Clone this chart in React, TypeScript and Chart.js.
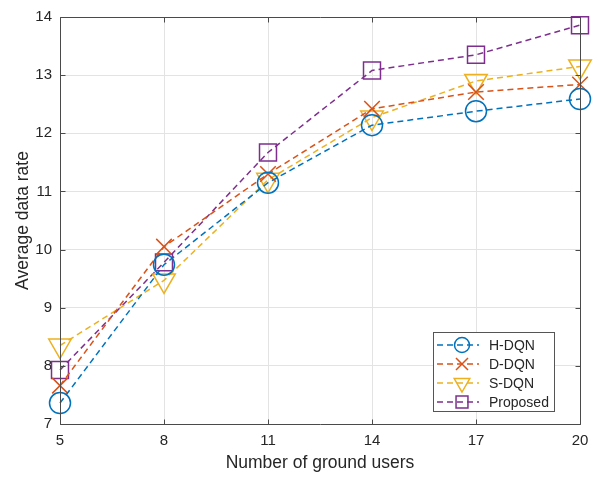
import React, { useEffect, useRef } from 'react';
import { Chart, registerables } from 'chart.js';
Chart.register(...registerables);

const users = [5, 8, 11, 14, 17, 20];
const hDqn = [7.36, 9.74, 11.15, 12.14, 12.38, 12.59];
const dDqn = [7.66, 10.05, 11.3, 12.42, 12.71, 12.84];
const sDqn = [8.35, 9.47, 11.2, 12.27, 12.9, 13.15];
const proposed = [7.93, 9.78, 11.67, 13.08, 13.35, 13.86];
const seriesNames = ['H-DQN', 'D-DQN', 'S-DQN', 'Proposed'];
const seriesColors = ['#0072BD', '#D95319', '#EDB120', '#7E2F8E'];
const xTicks = [5, 8, 11, 14, 17, 20];
const yTicks = [7, 8, 9, 10, 11, 12, 13, 14];

const FONT = '"Liberation Sans", Arial, Helvetica, sans-serif';

function drawMarker(ctx: CanvasRenderingContext2D, kind: number, x: number, y: number, s: number) {
  ctx.beginPath();
  if (kind === 0) {
    ctx.arc(x, y, s, 0, Math.PI * 2);
  } else if (kind === 1) {
    const d = s * 0.75;
    ctx.moveTo(x - d, y - d); ctx.lineTo(x + d, y + d);
    ctx.moveTo(x + d, y - d); ctx.lineTo(x - d, y + d);
  } else if (kind === 2) {
    ctx.moveTo(x, y + s);
    ctx.lineTo(x - s * 0.866, y - s * 0.5);
    ctx.lineTo(x + s * 0.866, y - s * 0.5);
    ctx.closePath();
  } else {
    const h = s * 0.7;
    ctx.rect(x - h, y - h, 2 * h, 2 * h);
  }
  ctx.stroke();
}

const framePlugin = {
  id: 'frame',
  afterDatasetsDraw(chart: any) {
    const { ctx, chartArea: a } = chart;
    const xs = chart.scales.x;
    const ys = chart.scales.y;
    ctx.save();
    ctx.strokeStyle = '#4a4a4a';
    ctx.lineWidth = 1;
    ctx.beginPath();
    const L = Math.round(a.left) + 0.5, R = Math.round(a.right) + 0.5;
    const T = Math.round(a.top) + 0.5, B = Math.round(a.bottom) + 0.5;
    ctx.rect(L, T, R - L, B - T);
    const tl = 5;
    for (const v of xTicks) {
      const px = Math.round(xs.getPixelForValue(v)) + 0.5;
      ctx.moveTo(px, B); ctx.lineTo(px, B - tl);
      ctx.moveTo(px, T); ctx.lineTo(px, T + tl);
    }
    for (const v of yTicks) {
      const py = Math.round(ys.getPixelForValue(v)) + 0.5;
      ctx.moveTo(L, py); ctx.lineTo(L + tl, py);
      ctx.moveTo(R, py); ctx.lineTo(R - tl, py);
    }
    ctx.stroke();

    // legend
    const bx = 433.5, by = 332.5, bw = 121, bh = 79;
    ctx.fillStyle = '#ffffff';
    ctx.fillRect(bx, by, bw, bh);
    ctx.strokeStyle = '#555555';
    ctx.lineWidth = 1;
    ctx.strokeRect(bx, by, bw, bh);
    const rows = [345, 364, 383, 402];
    const sizes = [7.5, 8, 9, 8.5];
    ctx.font = `14px ${FONT}`;
    ctx.textBaseline = 'middle';
    ctx.textAlign = 'left';
    for (let i = 0; i < 4; i++) {
      const y = rows[i];
      ctx.strokeStyle = seriesColors[i];
      ctx.lineWidth = 1.5;
      ctx.setLineDash([6, 4]);
      ctx.beginPath();
      ctx.moveTo(437, y); ctx.lineTo(479, y);
      ctx.stroke();
      ctx.setLineDash([]);
      drawMarker(ctx, i, 462, y, sizes[i]);
      ctx.fillStyle = '#262626';
      ctx.fillText(seriesNames[i], 489, y + 1);
    }
    ctx.restore();
  },
};

export default function App() {
  const ref = useRef<HTMLCanvasElement>(null);
  useEffect(() => {
    document.body.style.margin = '0';
    const series = [hDqn, dDqn, sDqn, proposed];
    const styles: any[] = ['circle', 'crossRot', 'triangle', 'rect'];
    const radii = [10.5, 11, 13, 12];
    const chart = new Chart(ref.current!, {
      type: 'line',
      data: {
        datasets: series.map((s, i) => ({
          label: seriesNames[i],
          data: users.map((u, j) => ({ x: u, y: s[j] })),
          borderColor: seriesColors[i],
          backgroundColor: seriesColors[i],
          borderWidth: 1.5,
          borderDash: [6, 4],
          pointStyle: styles[i],
          pointRadius: radii[i],
          pointRotation: i === 2 ? 180 : 0,
          pointBorderColor: seriesColors[i],
          pointBackgroundColor: 'rgba(0,0,0,0)',
          pointBorderWidth: 1.5,
          tension: 0,
          clip: false,
        })),
      },
      options: {
        responsive: false,
        animation: false,
        layout: { padding: { left: 0, right: 29, top: 13, bottom: 0 } },
        plugins: { legend: { display: false }, tooltip: { enabled: false } },
        scales: {
          x: {
            type: 'linear',
            min: 5,
            max: 20,
            afterBuildTicks: (s: any) => { s.ticks = xTicks.map((v) => ({ value: v })); },
            afterFit: (s: any) => { s.height = 53; },
            grid: { color: '#e3e3e3', drawTicks: false },
            border: { display: false },
            ticks: { color: '#262626', font: { family: FONT, size: 15 }, padding: 8, maxRotation: 0 },
            title: { display: true, text: 'Number of ground users', color: '#262626', font: { family: FONT, size: 17.5 }, padding: { top: 0, bottom: 3 } },
          },
          y: {
            type: 'linear',
            min: 7,
            max: 14,
            afterBuildTicks: (s: any) => { s.ticks = yTicks.map((v) => ({ value: v })); },
            afterFit: (s: any) => { s.width = 60; },
            grid: { color: '#e3e3e3', drawTicks: false },
            border: { display: false },
            ticks: { color: '#262626', font: { family: FONT, size: 15 }, padding: 8 },
            title: { display: true, text: 'Average data rate', color: '#262626', font: { family: FONT, size: 17.5 }, padding: { top: 13, bottom: 0 } },
          },
        },
      },
      plugins: [framePlugin],
    } as any);
    return () => chart.destroy();
  }, []);
  return (
    <div style={{ position: 'fixed', left: 0, top: 0, width: 609, height: 477, background: '#fff' }}>
      <canvas ref={ref} width={609} height={477} />
    </div>
  );
}
